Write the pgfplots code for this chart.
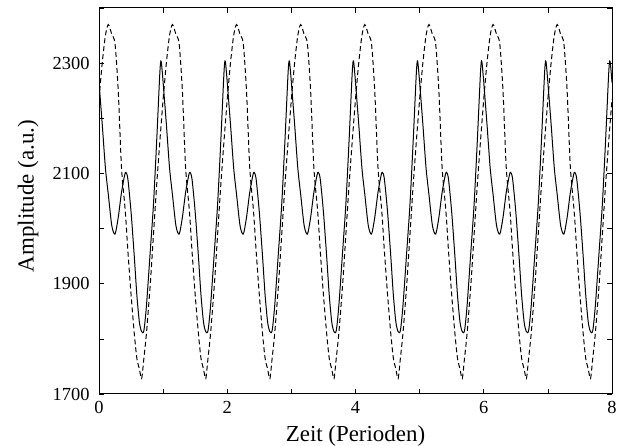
\documentclass[border=0pt]{standalone}
\usepackage{fontspec}
\setmainfont{Liberation Serif}
\usepackage{pgfplots}
\usepackage{pgfplotstable}
\pgfplotsset{compat=1.18}

% one period of both signals, t in periods
\pgfplotstableread{
t     s     d
0.00  2265  2235
0.05  2190  2300
0.10  2110  2350
0.145 2062  2370
0.20  2005  2352
0.25  1990  2335
0.30  2020  2250
0.35  2065  2112
0.40  2097  2045
0.42  2102  2015
0.45  2090  1960
0.50  2030  1880
0.55  1950  1810
0.59  1880  1765
0.63  1830  1745
0.665 1813  1728
0.70  1815  1765
0.74  1860  1810
0.80  1960  1900
0.85  2045  1990
0.90  2160  2080
0.95  2285  2160
0.97  2303  2190
1.00  2265  2235
}\period

\begin{document}
\begin{tikzpicture}
\begin{axis}[
    name=ax,
    scale only axis,
    width=513bp, height=386bp,
    xmin=0, xmax=8, ymin=1700, ymax=2400,
    xtick={0,1,...,8},
    xticklabels={0,,2,,4,,6,,8},
    ytick={1700,1800,...,2400},
    yticklabels={1700,,1900,,2100,,2300,},
    tick align=inside,
    major tick length=5bp,
    tick style={black, line width=0.7bp},
    axis line style={line width=1bp},
    /pgf/number format/assume math mode=true,
    ticklabel style={font=\fontsize{18.5}{21}\selectfont},
    xticklabel style={yshift=-4bp},
    yticklabel style={xshift=-6bp},
    label style={font=\fontsize{23}{26}\selectfont},
    xlabel={Zeit (Perioden)},
    ylabel={Amplitude (a.u.)},
    xlabel style={at={(axis description cs:0.5,-0.108)}, anchor=center},
    ylabel style={at={(axis description cs:-0.1384,0.513)}, anchor=center, rotate=0},
]
\pgfplotsinvokeforeach{0,...,7}{
  \addplot[black, line width=1bp, no marks, smooth, tension=0.45] table[x expr=\thisrow{t}+#1, y=s] {\period};
  \addplot[black, line width=1bp, no marks, smooth, tension=0.45, dash pattern=on 5bp off 3bp] table[x expr=\thisrow{t}+#1, y=d] {\period};
}
\end{axis}
\pgfresetboundingbox
\path ([shift={(-99bp,-52bp)}]ax.south west) rectangle ([shift={(8bp,8bp)}]ax.north east);
\end{tikzpicture}
\end{document}
